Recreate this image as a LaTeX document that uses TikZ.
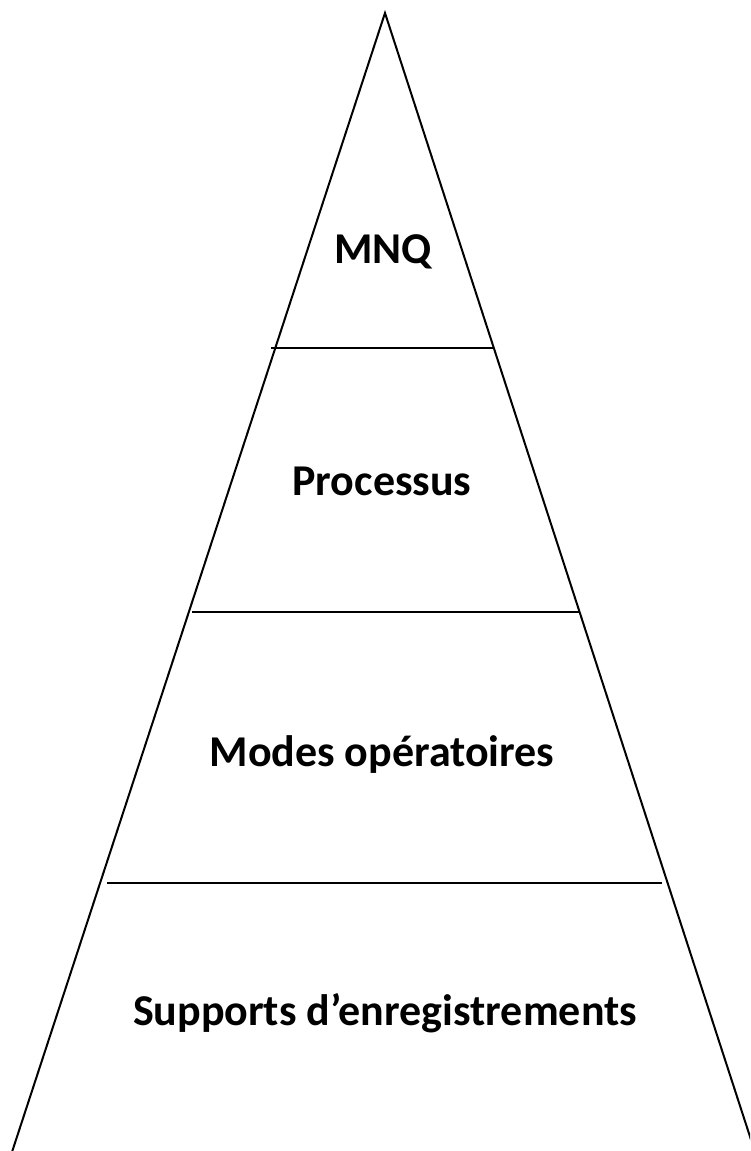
\documentclass[tikz,border=0pt]{standalone}
\usepackage{fontspec}
\setmainfont{Carlito}
\tikzset{
  edge/.style={line width=2pt, black},
  label/.style={font=\fontsize{44}{50}\selectfont\bfseries, anchor=base, inner sep=0pt}
}
\begin{document}
\begin{tikzpicture}[x=1pt,y=-1pt]
\useasboundingbox (0,0) rectangle (750,1151);
\clip (0,0) rectangle (750,1151);
\coordinate (apex) at (385,13);
\coordinate (bl) at (12,1152);
\coordinate (br) at (755,1152);
\coordinate (l1) at (271,348);
\coordinate (r1) at (494,348);
\coordinate (l2) at (192,612);
\coordinate (r2) at (580,612);
\coordinate (l3) at (107,883);
\coordinate (r3) at (662,883);
\draw[edge, line join=miter] (bl) -- (apex) -- (br);
\draw[edge] (l1) -- (r1);
\draw[edge] (l2) -- (r2);
\draw[edge] (l3) -- (r3);
\node[label] (mnq) at (383,263) {MNQ};
\node[label] (proc) at (382,495) {Processus};
\node[label] (modes) at (382,766) {Modes opératoires};
\node[label] (supp) at (385,1025) {Supports d’enregistrements};
\end{tikzpicture}
\end{document}
